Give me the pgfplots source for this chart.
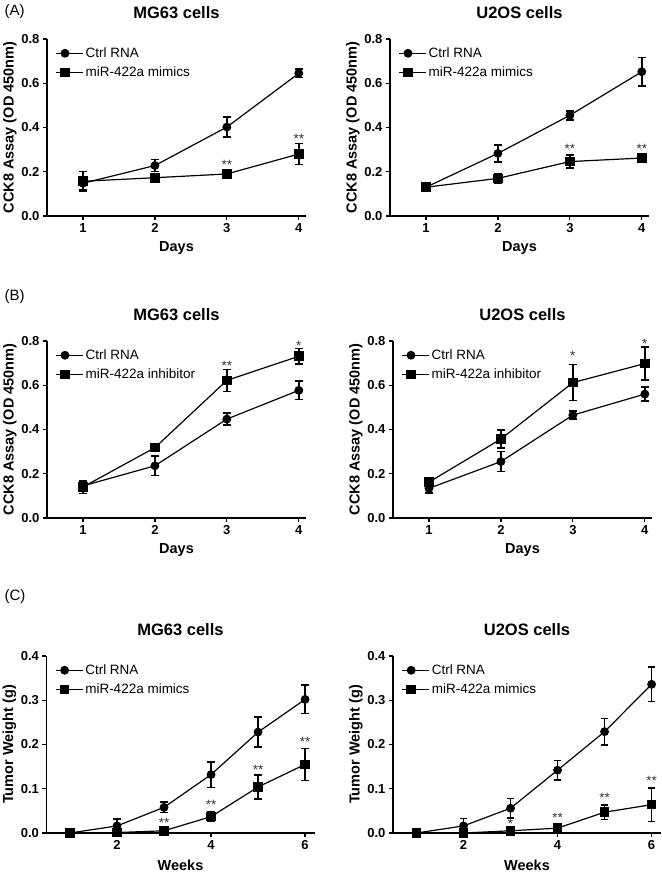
\documentclass[border=0pt]{standalone}
\usepackage{fontspec}
\setmainfont{Liberation Sans}
\usepackage{pgfplots}
\pgfplotsset{compat=1.18}

\pgfplotsset{
  panel/.style={
    scale only axis, height=177pt,
    axis x line*=bottom, axis y line*=left,
    tick align=outside, major tick length=4pt,
    axis line style={line width=1.2pt, black},
    major tick style={line width=1.2pt, black},
    /pgf/number format/assume math mode=true,
    tick label style={font=\fontsize{13}{13}\selectfont\bfseries},
    label style={font=\fontsize{14.5}{16}\selectfont\bfseries},
    title style={font=\fontsize{16.5}{18}\selectfont\bfseries, at={(axis description cs:0.5,1.113)}, anchor=center, yshift=0pt},
    xlabel style={at={(axis description cs:0.5,-0.18)}, anchor=center},
    ylabel style={at={(axis description cs:-0.143,0.5)}, anchor=center},
    yticklabel style={/pgf/number format/.cd, fixed, fixed zerofill, precision=1},
    legend style={at={(0.02,0.975)}, anchor=north west, draw=none, fill=none,
      font=\fontsize{13.5}{15}\selectfont, row sep=4pt, cells={anchor=west}},
    legend image code/.code={
      \draw[mark repeat=2, mark phase=2, #1] plot coordinates {(0pt,0pt) (9pt,0pt) (18pt,0pt)};
      \path (18pt,0pt) -- (27pt,0pt);},
    clip=false,
  },
  days/.style={panel, width=259pt, xmin=0.5, xmax=4.1, xtick={1,2,3,4},
    ymin=0, ymax=0.8, ytick={0,0.2,0.4,0.6,0.8}, xlabel={Days},
    ylabel={CCK8 Assay (OD 450nm)}},
  weeks/.style={panel, width=268pt, xmin=0.5, xmax=6.2, xtick={2,4,6},
    ymin=0, ymax=0.4, ytick={0,0.1,0.2,0.3,0.4}, xlabel={Weeks},
    ylabel={Tumor Weight (g)}, ylabel style={at={(axis description cs:-0.138,0.5)}}},
  ser/.style={black, line width=1.2pt, mark options={solid, fill=black},
    error bars/y dir=both, error bars/y explicit,
    error bars/error bar style={line width=1.5pt, black},
    error bars/error mark options={rotate=90, line width=1.5pt, mark size=3.7pt, black}},
  ctrl/.style={ser, mark=*, mark size=3.8pt},
  trt/.style={ser, mark=square*, mark size=4.2pt},
  stars/.style={draw=none, mark=none, forget plot,
    nodes near coords, point meta=explicit symbolic,
    every node near coord/.append style={anchor=center, yshift=-2.5pt,
      font=\fontsize{13.5}{13.5}\selectfont, text=black!80}},
}

\begin{document}
\begin{tikzpicture}
\useasboundingbox (0,0) rectangle (661pt,872pt);

\node[anchor=west, font=\fontsize{15}{16}\selectfont] at (1pt,860pt) {(A)};
\node[anchor=west, font=\fontsize{15}{16}\selectfont] at (1pt,575pt) {(B)};
\node[anchor=west, font=\fontsize{15}{16}\selectfont] at (1pt,275pt) {(C)};

% (A) MG63
\begin{axis}[days, at={(47pt,656pt)}, anchor=south west, title={MG63 cells}]
\addplot[ctrl] coordinates {(1,0.148) +- (0,0.03) (2,0.228) +- (0,0.028) (3,0.402) +- (0,0.046) (4,0.645) +- (0,0.02)};
\addplot[trt] coordinates {(1,0.157) +- (0,0.043) (2,0.173) +- (0,0.008) (3,0.19) +- (0,0.008) (4,0.28) +- (0,0.047)};
\addplot[stars] coordinates {(3,0.241) [**] (4,0.358) [**]};
\legend{Ctrl RNA, miR-422a mimics}
\end{axis}

% (A) U2OS
\begin{axis}[days, at={(390pt,656pt)}, anchor=south west, title={U2OS cells}]
\addplot[ctrl] coordinates {(1,0.13) +- (0,0.005) (2,0.283) +- (0,0.038) (3,0.455) +- (0,0.02) (4,0.652) +- (0,0.065)};
\addplot[trt] coordinates {(1,0.13) +- (0,0.005) (2,0.17) +- (0,0.02) (3,0.246) +- (0,0.03) (4,0.262) +- (0,0.008)};
\addplot[stars] coordinates {(3,0.313) [**] (4,0.313) [**]};
\legend{Ctrl RNA, miR-422a mimics}
\end{axis}

% (B) MG63
\begin{axis}[days, at={(47pt,354pt)}, anchor=south west, title={MG63 cells}]
\addplot[ctrl] coordinates {(1,0.145) +- (0,0.02) (2,0.236) +- (0,0.045) (3,0.447) +- (0,0.027) (4,0.577) +- (0,0.042)};
\addplot[trt] coordinates {(1,0.14) +- (0,0.03) (2,0.318) +- (0,0.016) (3,0.622) +- (0,0.05) (4,0.731) +- (0,0.036)};
\addplot[stars] coordinates {(3,0.698) [**] (4,0.79) [*]};
\legend{Ctrl RNA, miR-422a inhibitor}
\end{axis}

% (B) U2OS
\begin{axis}[days, at={(393pt,354pt)}, anchor=south west, title={U2OS cells}]
\addplot[ctrl] coordinates {(1,0.134) +- (0,0.02) (2,0.255) +- (0,0.045) (3,0.465) +- (0,0.018) (4,0.56) +- (0,0.032)};
\addplot[trt] coordinates {(1,0.162) +- (0,0.01) (2,0.357) +- (0,0.04) (3,0.612) +- (0,0.082) (4,0.698) +- (0,0.075)};
\addplot[stars] coordinates {(3,0.742) [*] (4,0.797) [*]};
\legend{Ctrl RNA, miR-422a inhibitor}
\end{axis}

% (C) MG63
\begin{axis}[weeks, at={(46.5pt,39pt)}, anchor=south west, title={MG63 cells}]
\addplot[ctrl] coordinates {(1,0) +- (0,0) (2,0.016) +- (0,0.016) (3,0.058) +- (0,0.012) (4,0.132) +- (0,0.029) (5,0.228) +- (0,0.034) (6,0.302) +- (0,0.032)};
\addplot[trt] coordinates {(1,0) +- (0,0) (2,0.001) +- (0,0) (3,0.005) +- (0,0.003) (4,0.037) +- (0,0.01) (5,0.104) +- (0,0.027) (6,0.155) +- (0,0.036)};
\addplot[stars] coordinates {(3,0.029) [**] (4,0.07) [**] (5,0.148) [**] (6,0.212) [**]};
\legend{Ctrl RNA, miR-422a mimics}
\end{axis}

% (C) U2OS
\begin{axis}[weeks, at={(393pt,39pt)}, anchor=south west, title={U2OS cells}]
\addplot[ctrl] coordinates {(1,0) +- (0,0) (2,0.016) +- (0,0.017) (3,0.056) +- (0,0.022) (4,0.142) +- (0,0.022) (5,0.229) +- (0,0.03) (6,0.336) +- (0,0.039)};
\addplot[trt] coordinates {(1,0) +- (0,0) (2,0) +- (0,0) (3,0.005) +- (0,0.005) (4,0.011) +- (0,0.011) (5,0.047) +- (0,0.016) (6,0.064) +- (0,0.038)};
\addplot[stars] coordinates {(3,0.026) [*] (4,0.04) [**] (5,0.084) [**] (6,0.124) [**]};
\legend{Ctrl RNA, miR-422a mimics}
\end{axis}
\end{tikzpicture}
\end{document}
